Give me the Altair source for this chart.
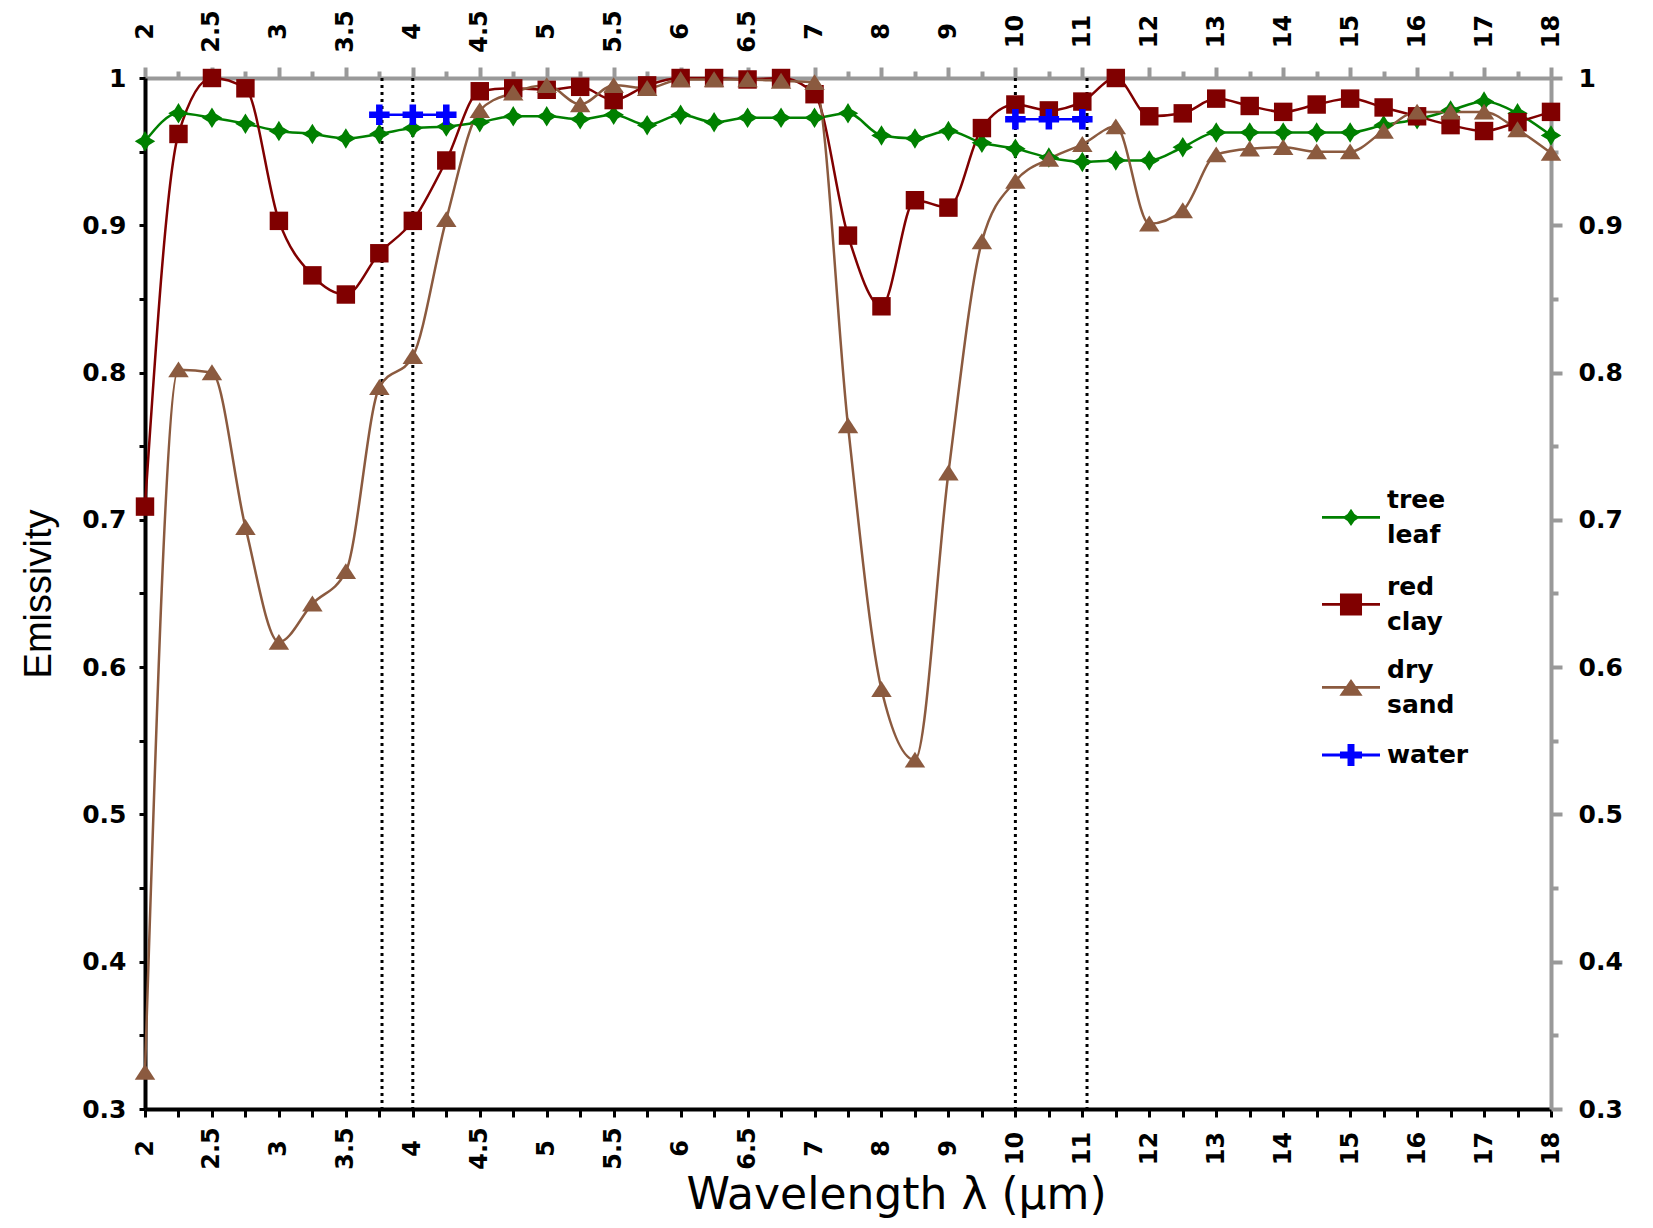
import altair as alt
import pandas as pd

# ---------------- data ----------------
wavelength = [2, 2.25, 2.5, 2.75, 3, 3.25, 3.5, 3.75, 4, 4.25, 4.5, 4.75, 5, 5.25, 5.5, 5.75,
              6, 6.25, 6.5, 6.75, 7, 7.5, 8, 8.5, 9, 9.5, 10, 10.5, 11, 11.5, 12, 12.5,
              13, 13.5, 14, 14.5, 15, 15.5, 16, 16.5, 17, 17.5, 18]

tree_leaf = [0.957, 0.976, 0.973, 0.969, 0.964, 0.962, 0.959, 0.962, 0.966, 0.967, 0.970, 0.974,
             0.974, 0.972, 0.975, 0.968, 0.975, 0.970, 0.973, 0.973, 0.973, 0.976, 0.961, 0.959,
             0.964, 0.956, 0.952, 0.946, 0.943, 0.944, 0.944, 0.953, 0.963, 0.963, 0.963, 0.963,
             0.963, 0.968, 0.972, 0.978, 0.984, 0.976, 0.961]

red_clay = [0.709, 0.962, 1.000, 0.993, 0.903, 0.866, 0.853, 0.881, 0.903, 0.944, 0.991, 0.993,
            0.992, 0.994, 0.985, 0.995, 1.000, 1.000, 0.999, 1.000, 0.989, 0.893, 0.845, 0.917,
            0.912, 0.966, 0.982, 0.978, 0.984, 1.000, 0.974, 0.976, 0.986, 0.981, 0.977, 0.982,
            0.986, 0.980, 0.974, 0.968, 0.964, 0.970, 0.977]

dry_sand = [0.325, 0.802, 0.800, 0.695, 0.617, 0.643, 0.665, 0.790, 0.811, 0.904, 0.978, 0.990,
            0.995, 0.982, 0.995, 0.993, 0.999, 0.999, 0.999, 0.998, 0.997, 0.764, 0.585, 0.537,
            0.732, 0.889, 0.930, 0.945, 0.955, 0.967, 0.901, 0.910, 0.948, 0.952, 0.953, 0.950,
            0.950, 0.964, 0.977, 0.977, 0.977, 0.965, 0.949]

water_wavelength = [3.75, 4, 4.25, 10, 10.5, 11]
water = [0.975, 0.975, 0.975, 0.972, 0.972, 0.972]
water_segment = [1, 1, 1, 2, 2, 2]

band_edges = [3.77, 4.0, 10.0, 11.07]

series_names = ["tree leaf", "red clay", "dry sand", "water"]
series_colors = ["#008000", "#800000", "#8B5A3F", "#0000FF"]

x_major_ticks = [2, 2.5, 3, 3.5, 4, 4.5, 5, 5.5, 6, 6.5, 7,
                 8, 9, 10, 11, 12, 13, 14, 15, 16, 17, 18]
y_ticks = [0.3, 0.35, 0.4, 0.45, 0.5, 0.55, 0.6, 0.65, 0.7, 0.75, 0.8, 0.85, 0.9, 0.95, 1.0]

# ---------------- tables ----------------
rows = []
for name, vals in [("tree leaf", tree_leaf), ("red clay", red_clay), ("dry sand", dry_sand)]:
    for w, v in zip(wavelength, vals):
        rows.append({"wl": w, "value": v, "series": name, "seg": 0})
for w, v, s in zip(water_wavelength, water, water_segment):
    rows.append({"wl": w, "value": v, "series": "water", "seg": s})
df = pd.DataFrame(rows)
rules_df = pd.DataFrame({"wl": band_edges})

x_minor_ticks = [(a + b) / 2 for a, b in zip(x_major_ticks[:-1], x_major_ticks[1:])]
x_ticks = sorted(x_major_ticks + x_minor_ticks)

# ---------------- geometry / style ----------------
W, H = 1406, 1031
xscale = alt.Scale(domain=[2, 7, 18], range=[0, W * 10 / 21, W], nice=False, zero=False)
yscale = alt.Scale(domain=[0.3, 1.0], nice=False, zero=False)
color_scale = alt.Scale(domain=series_names, range=series_colors)

x_major = ("(datum.value <= 7 ? abs(datum.value*2 - round(datum.value*2)) < 0.001"
           " : abs(datum.value - round(datum.value)) < 0.001)")
y_major = "(abs(datum.value*10 - round(datum.value*10)) < 0.001)"
x_label = f"{x_major} ? format(datum.value, '~g') : ''"
y_label = f"{y_major} ? format(datum.value, '.1~f') : ''"

GRAY = "#999999"
LFONT = "DejaVu Sans"

bottom_axis = alt.Axis(
    orient="bottom", values=x_ticks, labelExpr=x_label, labelAngle=270,
    labelAlign="center", labelBaseline="middle", labelPadding=31,
    labelFont=LFONT, labelFontSize=24, labelFontWeight="bold", labelColor="black",
    labelOverlap=False, labelFlush=False, labelBound=False,
    tickSize=8, tickWidth=3, tickColor="black", domainColor="black", domainWidth=4,
    grid=False, title="Wavelength λ (µm)", titleFont="DejaVu Sans", titleFontSize=44,
    titleFontWeight="normal", titleColor="black", titleX=751, titleY=99,
    titleAlign="center", titleBaseline="alphabetic")

top_axis = alt.Axis(
    orient="top", values=x_ticks, labelExpr=x_label, labelAngle=270,
    labelAlign="center", labelBaseline="middle", labelPadding=36,
    labelFont=LFONT, labelFontSize=24, labelFontWeight="bold", labelColor="black",
    labelOverlap=False, labelFlush=False, labelBound=False,
    tickSize={"condition": {"test": x_major, "value": 11}, "value": 7},
    tickWidth=4, tickColor=GRAY, domainColor=GRAY, domainWidth=4,
    grid=False, title=None)

left_axis = alt.Axis(
    orient="left", values=y_ticks, labelExpr=y_label,
    labelFont=LFONT, labelFontSize=25, labelFontWeight="bold", labelColor="black",
    labelPadding=13, labelOverlap=False, labelFlush=False,
    tickSize=6, tickWidth=3, tickColor="black", domainColor="black", domainWidth=4,
    grid=False, title="Emissivity", titleFont="Liberation Sans",
    titleFontSize=38, titleFontWeight="normal", titleColor="black", titleX=-106, titleY=H / 2,
    titleAngle=270, titleAlign="center", titleBaseline="middle")

right_axis = alt.Axis(
    orient="right", values=y_ticks, labelExpr=y_label,
    labelFont=LFONT, labelFontSize=25, labelFontWeight="bold", labelColor="black",
    labelPadding=16, labelOverlap=False, labelFlush=False,
    tickSize={"condition": {"test": y_major, "value": 11}, "value": 7},
    tickWidth=4, tickColor=GRAY, domainColor=GRAY, domainWidth=4,
    grid=False, title=None)

marker_paths = [
    "M0,-1L0.38,-0.38L1,0L0.38,0.38L0,1L-0.38,0.38L-1,0L-0.38,-0.38Z",
    "M-0.9,-0.9H0.9V0.9H-0.9Z",
    "M0,-0.8L1,0.75H-1Z",
    "M-0.32,-1H0.32V-0.32H1V0.32H0.32V1H-0.32V0.32H-1V-0.32H-0.32Z",
]
# legend symbols: a thin bar (the line) with the marker on it; two-line labels get the
# symbol centred between their two text lines
legend_paths = [
    "M-1,0.55H1V0.65H-1ZM0,0.3L0.12,0.48L0.3,0.6L0.12,0.72L0,0.9L-0.12,0.72L-0.3,0.6L-0.12,0.48Z",
    "M-1,0.55H1V0.65H-1ZM-0.38,0.22H0.38V0.98H-0.38Z",
    "M-1,0.55H1V0.65H-1ZM0,0.31L0.4,0.89H-0.4Z",
    "M-1,-0.05H1V0.05H-1ZM-0.12,-0.38H0.12V-0.12H0.38V0.12H0.12V0.38H-0.12V0.12H-0.38V-0.12H-0.12Z",
]
legend_tops = [393, 480, 563, 648]

# ---------------- layers ----------------
rules = alt.Chart(rules_df).mark_rule(color="black", strokeWidth=3, strokeDash=[3, 4]).encode(
    x=alt.X("wl:Q", scale=xscale, axis=None))

lines = alt.Chart(df).mark_line(interpolate="monotone", strokeWidth=2.5).encode(
    x=alt.X("wl:Q", scale=xscale, axis=bottom_axis),
    y=alt.Y("value:Q", scale=yscale, axis=left_axis),
    color=alt.Color("series:N", scale=color_scale, legend=None),
    detail="seg:N")

points = alt.Chart(df).mark_point(filled=True, size=420, opacity=1).encode(
    x=alt.X("wl:Q", scale=xscale, axis=top_axis),
    y=alt.Y("value:Q", scale=yscale, axis=right_axis),
    color=alt.Color("series:N", scale=color_scale, legend=None),
    shape=alt.Shape("series:N", scale=alt.Scale(domain=series_names, range=marker_paths), legend=None))

legend_layers = []
for name, col, path, top in zip(series_names, series_colors, legend_paths, legend_tops):
    leg = alt.Legend(
        title=None, orient="none", legendX=1177, legendY=top,
        labelExpr="split(datum.label, ' ')", labelFont=LFONT, labelFontSize=25,
        labelFontWeight="bold", labelColor="black", labelOffset=7, labelLimit=400,
        symbolSize=3364, symbolStrokeWidth=0, symbolOpacity=1,
        symbolFillColor=col, padding=0)
    legend_layers.append(
        alt.Chart(df).transform_filter(alt.datum.series == name)
        .mark_point(filled=True, fill=col, opacity=0)
        .encode(
            x=alt.X("wl:Q", scale=xscale, axis=None),
            y=alt.Y("value:Q", scale=yscale, axis=None),
            shape=alt.Shape("series:N", scale=alt.Scale(domain=[name], range=[path]), legend=leg)))

chart = alt.layer(rules, lines, points, *legend_layers).resolve_axis(
    x="independent", y="independent"
).resolve_scale(shape="independent").properties(
    width=W, height=H,
    padding={"left": 137, "top": 70, "right": 86, "bottom": 110},
    autosize=alt.AutoSizeParams(type="none"),
    background="white",
).configure(style={"guide-label": {"lineHeight": 35}}).configure_view(stroke=None)

chart.save("out.html", embed_options={"renderer": "svg", "actions": False})
